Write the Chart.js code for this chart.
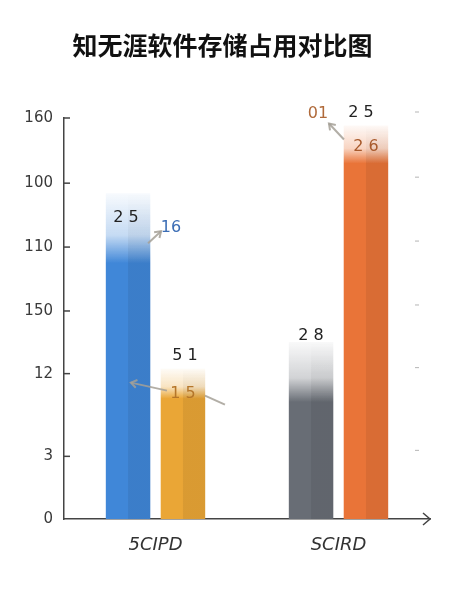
<!DOCTYPE html>
<html>
<head>
<meta charset="utf-8">
<script src="https://cdn.jsdelivr.net/npm/chart.js@4/dist/chart.umd.min.js"></script>
<style>
html,body{margin:0;padding:0;background:#fff;}
#wrap{width:450px;height:600px;position:relative;}
</style>
</head>
<body>
<div id="wrap"><canvas id="c" width="450" height="600"></canvas></div>
<script>
// ---- data ----
const titleText = '知无涯软件存储占用对比图';
const categories = ['5CIPD', 'SCIRD'];
const seriesFirst = [130, 70.6];   // blue (5CIPD), gray (SCIRD)
const seriesSecond = [60, 157];    // yellow (5CIPD), orange (SCIRD)
const tickValues = [0, 25, 58, 83, 108.5, 134, 160];
const tickLabels = ['0', '3', '12', '150', '110', '100', '160'];
const labelsFirst = ['2 5', '2 8'];
const labelsSecond = ['5 1', '2 5'];
const innerLabelsSecond = ['1 5', '2 6'];
const calloutBlue = '16';
const calloutOrange = '01';

// ---- styles ----
const colorsFirst = [[64,135,216],[104,109,117]];
const colorsSecond = [[234,166,54],[233,116,56]];
const fadeFirst = [70, 60];
const fadeSecond = [30, 38];

function grad(ctx, rgbList, fadeList) {
  const chart = ctx.chart;
  if (!chart.chartArea || ctx.raw === undefined) return 'rgb(' + rgbList[ctx.dataIndex || 0].join(',') + ')';
  const rgb = rgbList[ctx.dataIndex];
  const fade = fadeList[ctx.dataIndex];
  const top = chart.scales.y.getPixelForValue(ctx.raw);
  const g = chart.ctx.createLinearGradient(0, top, 0, top + fade);
  const c = 'rgba(' + rgb.join(',') + ',';
  g.addColorStop(0, c + '0.04)');
  g.addColorStop(0.6, c + '0.3)');
  g.addColorStop(1, c + '1)');
  return g;
}

const deco = {
  id: 'deco',
  afterDatasetsDraw(chart) {
    const ctx = chart.ctx;
    const a = chart.chartArea;
    const y = chart.scales.y;
    [[0, fadeFirst], [1, fadeSecond]].forEach(([di, fades]) => {
      chart.getDatasetMeta(di).data.forEach((el, i) => {
        const top = el.y, w = el.width;
        const g = ctx.createLinearGradient(0, top, 0, top + fades[i]);
        g.addColorStop(0, 'rgba(0,0,0,0)');
        g.addColorStop(1, 'rgba(0,0,0,0.07)');
        ctx.save();
        ctx.fillStyle = g;
        ctx.fillRect(el.x, top, w / 2, el.base - top);
        ctx.restore();
      });
    });
    ctx.save();
    ctx.strokeStyle = '#444';
    ctx.lineWidth = 1.5;
    y.ticks.forEach(t => {
      if (t.value === 0) return;
      const py = y.getPixelForValue(t.value);
      ctx.beginPath(); ctx.moveTo(a.left, py); ctx.lineTo(a.left + 6, py); ctx.stroke();
    });
    ctx.strokeStyle = 'rgba(120,120,120,0.55)';
    ctx.lineWidth = 1;
    y.ticks.forEach(t => {
      if (t.value === 0) return;
      const py = y.getPixelForValue(t.value) - 6;
      ctx.beginPath(); ctx.moveTo(a.right - 15, py); ctx.lineTo(a.right - 11, py); ctx.stroke();
    });
    ctx.strokeStyle = '#444';
    ctx.lineWidth = 1.5;
    ctx.beginPath();
    ctx.moveTo(a.right - 7, a.bottom - 6); ctx.lineTo(a.right, a.bottom); ctx.lineTo(a.right - 7, a.bottom + 6);
    ctx.stroke();

    const m0 = chart.getDatasetMeta(0).data;
    const m1 = chart.getDatasetMeta(1).data;
    ctx.textAlign = 'center';
    ctx.textBaseline = 'middle';
    ctx.font = '16px "DejaVu Sans"';
    function arrow(x1, y1, x2, y2, head) {
      ctx.save();
      ctx.strokeStyle = 'rgba(165,160,150,0.85)';
      ctx.lineWidth = 2;
      ctx.beginPath(); ctx.moveTo(x1, y1); ctx.lineTo(x2, y2); ctx.stroke();
      if (head) {
        const ang = Math.atan2(y2 - y1, x2 - x1);
        ctx.beginPath();
        ctx.moveTo(x2 - 7 * Math.cos(ang - 0.6), y2 - 7 * Math.sin(ang - 0.6));
        ctx.lineTo(x2, y2);
        ctx.lineTo(x2 - 7 * Math.cos(ang + 0.6), y2 - 7 * Math.sin(ang + 0.6));
        ctx.stroke();
      }
      ctx.restore();
    }
    let e = m0[0];
    ctx.fillStyle = '#222';
    ctx.fillText(labelsFirst[0], e.x - 2, e.y + 25);
    ctx.fillStyle = '#3b6db5';
    ctx.fillText(calloutBlue, e.x + 43, e.y + 35);
    arrow(e.x + 20, e.y + 50, e.x + 33, e.y + 38, true);
    e = m0[1];
    ctx.fillStyle = '#222';
    ctx.fillText(labelsFirst[1], e.x, e.y - 6);
    e = m1[0];
    ctx.fillStyle = '#222';
    ctx.fillText(labelsSecond[0], e.x + 2, e.y - 13);
    arrow(e.x - 16, e.y + 22, e.x - 52, e.y + 14, true);
    arrow(e.x + 22, e.y + 27, e.x + 42, e.y + 36, false);
    ctx.fillStyle = '#b5762a';
    ctx.fillText(innerLabelsSecond[0], e.x, e.y + 25);
    e = m1[1];
    ctx.fillStyle = '#222';
    ctx.fillText(labelsSecond[1], e.x - 5, e.y - 13);
    ctx.fillStyle = '#b06a3a';
    ctx.fillText(calloutOrange, e.x - 48, e.y - 12);
    arrow(e.x - 22, e.y + 14, e.x - 37, e.y - 2, true);
    ctx.fillStyle = '#a85a2c';
    ctx.fillText(innerLabelsSecond[1], e.x, e.y + 21);
    ctx.restore();
  }
};

new Chart(document.getElementById('c'), {
  type: 'bar',
  data: {
    labels: categories,
    datasets: [
      { data: seriesFirst, backgroundColor: ctx => grad(ctx, colorsFirst, fadeFirst), borderWidth: 0,
        categoryPercentage: 0.6, barPercentage: 0.81 },
      { data: seriesSecond, backgroundColor: ctx => grad(ctx, colorsSecond, fadeSecond), borderWidth: 0,
        categoryPercentage: 0.6, barPercentage: 0.81 }
    ]
  },
  options: {
    responsive: false,
    animation: false,
    devicePixelRatio: 1,
    layout: { padding: { left: 15, right: 20, top: 0, bottom: 0 } },
    plugins: {
      legend: { display: false },
      tooltip: { enabled: false },
      title: {
        display: true, text: titleText, color: '#111',
        font: { family: '"Noto Sans CJK SC"', size: 25, weight: 'bold' },
        padding: { top: 30, bottom: 58 }
      }
    },
    scales: {
      x: {
        grid: { display: false, drawTicks: false },
        border: { display: true, color: '#444', width: 1.5 },
        ticks: { color: '#333', padding: 16, font: { family: '"DejaVu Sans"', size: 18, style: 'italic' } },
        afterFit(s) { s.height = 81; }
      },
      y: {
        min: 0, max: 160,
        afterBuildTicks(s) { s.ticks = tickValues.map(v => ({ value: v })); },
        grid: { display: false, drawTicks: false },
        border: { display: true, color: '#444', width: 1.5 },
        ticks: {
          color: '#3a3a3a', padding: 11,
          font: { family: '"DejaVu Sans"', size: 15 },
          callback: (v, i) => tickLabels[i]
        },
        afterFit(s) { s.width = 49; }
      }
    }
  },
  plugins: [deco]
});
</script>
</body>
</html>
